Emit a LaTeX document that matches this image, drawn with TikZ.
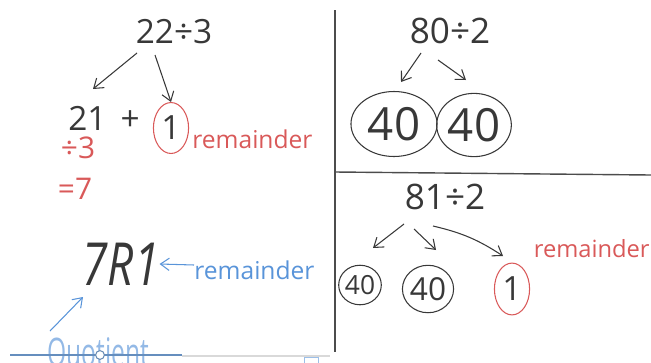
\documentclass[tikz,border=0pt]{standalone}
\usepackage{fontspec}
\setmainfont{Open Sans}
\usepackage{tikz}
\usetikzlibrary{arrows.meta, shapes.geometric, positioning}
\definecolor{inkgray}{rgb}{0.22, 0.22, 0.22}
\definecolor{inkred}{rgb}{0.85, 0.35, 0.35}
\definecolor{inkblue}{rgb}{0.35, 0.58, 0.85}
\definecolor{boardgray}{rgb}{0.30, 0.30, 0.30}

\begin{document}
\begin{tikzpicture}[
  x=0.02cm, y=-0.02cm,
  hand/.style={inner sep=0pt, text=inkgray, font=\fontsize{19}{21}\selectfont},
  redtxt/.style={inner sep=0pt, text=inkred, font=\fontsize{14}{16}\selectfont},
  bluetxt/.style={inner sep=0pt, text=inkblue, font=\fontsize{14}{16}\selectfont},
  ring/.style={ellipse, draw=inkgray, line width=0.6pt, inner sep=0pt, text=inkgray},
  redring/.style={ellipse, draw=inkred, line width=0.6pt, inner sep=0pt, text=inkgray},
  arr/.style={-{Straight Barb[length=5pt, width=7pt]}, line width=0.6pt, color=inkgray},
  bluearr/.style={-{Straight Barb[length=5pt, width=7pt]}, line width=0.6pt, color=inkblue},
  board/.style={line width=0.8pt, color=boardgray}
]
  \useasboundingbox (0,0) rectangle (651,362);

  % Board lines
  \draw[board] (335,10) -- (335,352);
  \draw[board] (335,172) -- (651,175);

  % Left panel: 22 / 3
  \node[hand] (q1) at (174,32) {22÷3};
  \node[hand] (p1) at (104,118) {21\hspace{8pt}+};
  \node[redring, minimum width=20pt, minimum height=29pt] (r1) at (171,128) {\fontsize{19}{21}\selectfont 1};
  \node[redtxt, anchor=west] (rem1) at (192,139) {remainder};
  \node[redtxt, font=\fontsize{17}{19}\selectfont] (div1) at (78,148) {÷3};
  \node[redtxt, font=\fontsize{17}{19}\selectfont] (eq1) at (75,189) {=7};
  \coordinate (s1) at (137,53);
  \coordinate (t1) at (93,89);
  \coordinate (s2) at (155,55);
  \draw[arr] (s1) -- (t1);
  \draw[arr] (s2) -- (r1.north);

  % Answer with labels
  \node[hand] (ans) at (121,264) {\scalebox{1}[1.3]{\fontsize{26}{28}\itshape\selectfont 7R1}};
  \node[bluetxt, anchor=west] (rem2) at (194,270) {remainder};
  \node[bluetxt, text=inkblue!65, anchor=north west] (quot) at (47,337) {\scalebox{1}[1.6]{\fontsize{14}{16}\selectfont Quotient}};
  \coordinate (s3) at (50,331);
  \coordinate (t3) at (83,297);
  \draw[bluearr] (rem2.west) ++(0,-5) -- (ans.east);
  \draw[bluearr] (s3) -- (t3);

  % Slider at the bottom
  \draw[inkblue!70!gray, line width=0.6pt] (10,355) -- (182,355);
  \draw[gray!30, line width=0.6pt] (182,356) -- (330,356);
  \node[circle, draw=inkblue!60!gray, fill=white, line width=0.6pt, minimum size=5pt, inner sep=0pt] (knob) at (100,355) {};
  \node[rectangle, draw=inkblue!60, line width=0.6pt, minimum width=8pt, minimum height=5pt, inner sep=0pt, anchor=north west] (tab) at (304,357) {};

  % Top right: 80 / 2
  \node[hand, font=\fontsize{20}{22}\selectfont] (q2) at (450,31) {80÷2};
  \node[ring, minimum width=49pt, minimum height=37pt, font=\fontsize{26}{28}\selectfont] (a1) at (394,124) {40};
  \node[ring, minimum width=42.5pt, minimum height=36pt, font=\fontsize{26}{28}\selectfont] (a2) at (474,125) {40};
  \coordinate (s4) at (421,53);
  \coordinate (t4) at (401,82);
  \coordinate (s5) at (438,60);
  \coordinate (t5) at (466,80);
  \draw[arr] (s4) -- (t4);
  \draw[arr] (s5) -- (t5);

  % Bottom right: 81 / 2
  \node[hand, font=\fontsize{20}{22}\selectfont] (q3) at (445,197) {81÷2};
  \node[ring, minimum width=20.5pt, minimum height=22.5pt, font=\fontsize{15}{17}\selectfont] (b1) at (360,285) {40};
  \node[ring, minimum width=28pt, minimum height=27pt, font=\fontsize{18}{20}\selectfont] (b2) at (428,289) {40};
  \node[redring, minimum width=20pt, minimum height=29.5pt, font=\fontsize{19}{21}\selectfont] (b3) at (512,289) {1};
  \node[redtxt, font=\fontsize{13.5}{15}\selectfont, anchor=east] (rem3) at (650,249) {remainder};
  \coordinate (s6) at (404,224);
  \coordinate (t6) at (373,248);
  \coordinate (s7) at (414,229);
  \coordinate (t7) at (436,250);
  \coordinate (s8) at (433,226);
  \coordinate (t8) at (503,256);
  \draw[arr] (s6) -- (t6);
  \draw[arr] (s7) -- (t7);
  \draw[arr] (s8) to[bend left=10] (t8);
\end{tikzpicture}
\end{document}
